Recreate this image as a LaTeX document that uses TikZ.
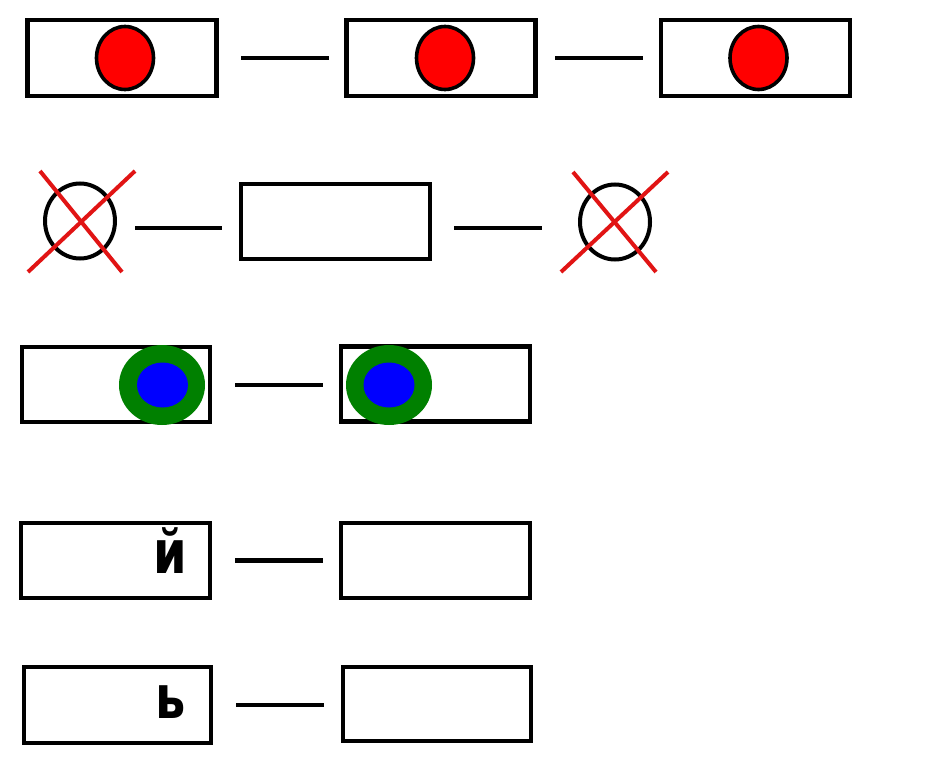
\documentclass[tikz,border=0pt]{standalone}
\usepackage{fontspec}
\usetikzlibrary{shapes.geometric}
\newfontfamily\lettfont{DejaVu Sans}
\definecolor{crossred}{RGB}{225,20,20}
\definecolor{ringgreen}{RGB}{0,128,0}
\definecolor{dotblue}{RGB}{0,0,255}
\definecolor{dotred}{RGB}{255,0,0}
\begin{document}
\begin{tikzpicture}[x=1pt,y=-1pt,
  box/.style={rectangle,draw=black,line width=4.6pt,minimum width=189pt,minimum height=76pt,inner sep=0pt,outer sep=0pt},
  redc/.style={ellipse,draw=black,fill=dotred,line width=3.6pt,minimum width=57pt,minimum height=63pt,inner sep=0pt,outer sep=0pt},
  ocirc/.style={ellipse,draw=black,line width=4pt,minimum width=70pt,minimum height=75pt,inner sep=0pt,outer sep=0pt},
  greenc/.style={ellipse,fill=ringgreen,minimum width=86pt,minimum height=80pt,inner sep=0pt,outer sep=0pt},
  bluec/.style={ellipse,fill=dotblue,minimum width=51pt,minimum height=45pt,inner sep=0pt,outer sep=0pt},
  crossline/.style={draw=crossred,line width=4pt},
  conn/.style={draw=black,line width=4.6pt},
  lett/.style={anchor=base,inner sep=0pt,font=\lettfont\bfseries\fontsize{60}{60}\selectfont}
]
\useasboundingbox[fill=white] (0,0) rectangle (936,768);
% Row 1
\node[box] (b11) at (122,58) {};
\node[box] (b12) at (441,58) {};
\node[box] (b13) at (755.5,58) {};
\node[redc] (r11) at (125,58) {};
\node[redc] (r12) at (445,58) {};
\node[redc] (r13) at (758.5,58) {};
\draw[conn,shorten <=24.5pt,shorten >=17.5pt] (b11.east) -- (b12.west);
\draw[conn,shorten <=19.5pt,shorten >=18pt] (b12.east) -- (b13.west);
% Row 2
\node[ocirc] (c21) at (80,221) {};
\node[box,minimum height=75pt] (b22) at (335.5,221.5) {};
\node[ocirc] (c23) at (615,222) {};
\draw[crossline] (28,272) -- (135,171);
\draw[crossline] (40,171) -- (122,272);
\draw[crossline] (561,272) -- (668,172);
\draw[crossline] (573,172) -- (656,272);
\draw[conn,shorten <=20pt,shorten >=19pt] ([yshift=-7pt]c21.east) -- ([yshift=-6.5pt]b22.west);
\draw[conn,shorten <=24pt,shorten >=38pt] ([yshift=-6.5pt]b22.east) -- ([yshift=-6pt]c23.west);
% Row 3
\node[box,minimum width=188pt,minimum height=75pt] (b31) at (116,384.5) {};
\node[box,minimum height=75pt] (b32) at (435.5,384) {};
\node[greenc] (g31) at (162,385) {};
\node[bluec] (u31) at (162.5,385) {};
\node[greenc] (g32) at (389,385) {};
\node[bluec] (u32) at (389,385) {};
\draw[conn,shorten <=25pt,shorten >=18pt] ([yshift=-0.5pt]b31.east) -- ([yshift=-1pt]b32.west);
% Row 4
\node[box,minimum height=75pt] (b41) at (115.5,560.5) {};
\node[box,minimum height=75pt] (b42) at (435.5,560.5) {};
\node[lett] (t41) at (170,573) {\scalebox{0.8}[1]{й}};
\draw[conn,shorten <=25pt,shorten >=18pt] (b41.east) -- (b42.west);
% Row 5
\node[box,minimum width=187pt] (b51) at (117.5,705) {};
\node[box,minimum width=188pt,minimum height=74pt] (b52) at (437,704) {};
\node[lett] (t51) at (171,718) {\scalebox{0.8}[1]{ь}};
\draw[conn,shorten <=25pt,shorten >=19pt] (b51.east) -- ([yshift=-1pt]b52.west);
\end{tikzpicture}
\end{document}
